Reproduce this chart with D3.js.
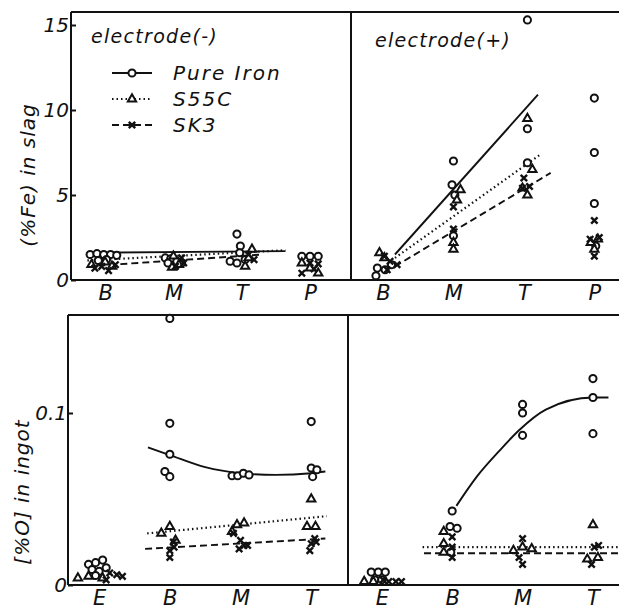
<!DOCTYPE html>
<html>
<head>
<meta charset="utf-8">
<script src="https://cdn.jsdelivr.net/npm/d3@7"></script>
<style>
  body { margin: 0; background: #fff; }
  text { font-family: "DejaVu Sans", sans-serif; font-style: italic; fill: #111; }
</style>
</head>
<body>
<div id="chart"></div>
<script>
// categories and tick labels
var SLAG_CATS = ['B', 'M', 'T', 'P'];
var INGOT_CATS = ['E', 'B', 'M', 'T'];
var SLAG_TICKS = [0, 5, 10, 15];
var INGOT_TICKS = [0, 0.1];
var SERIES = ['Pure Iron', 'S55C', 'SK3'];

// points: [category index (with the small spread of the plot), value]
var slagMinusIron = [[-0.22, 1.5], [-0.12, 1.55], [-0.02, 1.5], [0.08, 1.5], [0.17, 1.45], [-0.1, 1.15], [0.02, 1.2],
  [0.88, 1.3], [0.96, 1.25], [1.05, 1.1], [1.12, 1.0], [0.92, 1.0],
  [1.93, 2.7], [1.98, 2.0], [1.97, 1.6], [1.83, 1.1], [1.93, 1.0], [2.05, 1.2],
  [2.88, 1.4], [3.0, 1.4], [3.12, 1.4]];
var slagMinusS55C = [[-0.2, 0.9], [0.0, 1.05], [0.1, 0.8], [1.0, 1.4], [1.08, 0.9], [0.98, 0.75],
  [2.15, 1.8], [2.05, 0.8], [2.1, 1.3], [2.88, 1.0], [3.12, 0.4], [3.0, 0.7]];
var slagMinusSK3 = [[-0.15, 0.7], [0.05, 0.55], [0.15, 0.9], [-0.05, 0.8], [1.12, 1.3], [1.15, 1.0], [1.03, 0.8],
  [2.1, 1.5], [2.18, 1.2], [2.88, 0.4], [3.0, 1.0], [3.12, 0.95], [3.06, 0.65]];
var slagMinusIronFit = [[-0.26, 1.6], [2.64, 1.7]];
var slagMinusS55CFit = [[-0.26, 1.15], [2.64, 1.75]];
var slagMinusSK3Fit = [[-0.26, 0.8], [2.3, 1.5]];

var slagPlusIron = [[-0.1, 0.25], [-0.08, 0.7], [0.03, 0.6], [0.12, 0.9], [1.0, 7.0], [0.98, 5.6], [1.02, 5.0], [1.0, 2.6],
  [2.05, 15.3], [2.05, 8.9], [2.05, 6.9], [3.0, 10.7], [3.0, 7.5], [3.0, 4.5], [3.02, 2.0]];
var slagPlusS55C = [[-0.05, 1.6], [0.02, 1.3], [1.1, 5.3], [1.05, 4.7], [1.0, 2.2], [1.0, 1.8],
  [2.05, 9.5], [2.12, 6.5], [2.05, 5.0], [1.98, 5.4], [2.95, 2.2], [3.05, 2.4], [3.0, 1.8]];
var slagPlusSK3 = [[0.02, 1.4], [0.1, 1.1], [0.2, 0.9], [0.06, 0.6], [1.0, 4.3], [1.0, 3.0],
  [2.0, 6.0], [1.98, 5.4], [2.08, 5.5], [3.0, 3.5], [3.07, 2.5], [2.94, 2.4], [3.0, 1.4]];
var slagPlusIronFit = [[0.17, 1.5], [2.2, 10.9]];
var slagPlusS55CFit = [[0.17, 1.3], [2.24, 7.4]];
var slagPlusSK3Fit = [[0.17, 0.8], [2.38, 6.3]];

var ingotMinusIron = [[-0.15, 0.012], [-0.05, 0.013], [0.05, 0.0145], [-0.1, 0.009], [0.0, 0.008], [0.1, 0.010], [-0.05, 0.0055],
  [1.0, 0.155], [1.0, 0.094], [1.0, 0.076], [0.93, 0.066], [1.0, 0.063],
  [1.88, 0.0635], [1.96, 0.0635], [2.04, 0.065], [2.12, 0.064],
  [3.0, 0.095], [3.0, 0.068], [3.08, 0.067], [3.02, 0.063]];
var ingotMinusS55C = [[-0.3, 0.004], [-0.15, 0.005], [0.05, 0.004], [0.88, 0.030], [1.0, 0.034], [1.08, 0.026],
  [1.95, 0.035], [2.05, 0.036], [1.88, 0.031], [3.0, 0.050], [2.94, 0.034], [3.06, 0.034]];
var ingotMinusSK3 = [[0.15, 0.007], [0.25, 0.006], [0.1, 0.003], [0.33, 0.005], [1.05, 0.025], [1.0, 0.020], [1.06, 0.022], [1.0, 0.016],
  [1.9, 0.030], [2.0, 0.026], [2.05, 0.023], [1.98, 0.021], [2.1, 0.023], [3.05, 0.027], [3.0, 0.024], [2.98, 0.020], [3.07, 0.025]];
var ingotMinusIronFit = [[0.69, 0.080], [1.0, 0.0755], [1.5, 0.0685], [2.0, 0.065], [2.5, 0.064], [3.0, 0.065], [3.2, 0.066]];
var ingotMinusS55CFit = [[0.68, 0.030], [3.22, 0.040]];
var ingotMinusSK3Fit = [[0.65, 0.021], [3.2, 0.027]];

var ingotPlusIron = [[-0.15, 0.0075], [-0.05, 0.0075], [0.05, 0.0075], [-0.1, 0.003], [0.0, 0.003],
  [1.0, 0.043], [0.97, 0.034], [1.07, 0.033], [0.98, 0.019], [2.0, 0.105], [2.0, 0.100], [2.0, 0.087],
  [3.0, 0.120], [3.0, 0.109], [3.0, 0.088]];
var ingotPlusS55C = [[-0.25, 0.002], [-0.12, 0.002], [0.88, 0.031], [0.88, 0.024], [0.88, 0.019],
  [1.87, 0.020], [2.0, 0.022], [2.13, 0.021], [3.0, 0.035], [2.92, 0.015], [3.07, 0.016]];
var ingotPlusSK3 = [[0.1, 0.002], [0.2, 0.002], [0.28, 0.002], [0.02, 0.003], [1.0, 0.028], [1.0, 0.022], [1.0, 0.016],
  [2.0, 0.027], [1.95, 0.016], [2.0, 0.012], [3.02, 0.022], [3.08, 0.023], [2.98, 0.012]];
var ingotPlusIronFit = [[1.06, 0.046], [1.35, 0.063], [1.67, 0.078], [1.95, 0.090], [2.33, 0.102], [3.0, 0.109], [3.22, 0.109]];
var ingotPlusS55CFit = [[0.58, 0.022], [3.37, 0.022]];
var ingotPlusSK3Fit = [[0.6, 0.0185], [3.37, 0.0185]];

var WIDTH = 619, HEIGHT = 612;
var DASH = ['none', '1.5,3', '7,4'];

var svg = d3.select('#chart').append('svg')
  .attr('width', WIDTH)
  .attr('height', HEIGHT);

// scales for each panel
var yTop = d3.scaleLinear().domain([0, 15]).range([280, 25]);
var yBot = d3.scaleLinear().domain([0, 0.1]).range([585, 413]);
var xTL = d3.scaleLinear().domain([-0.5, 3.6]).range([71, 351]);
var xTR = d3.scaleLinear().domain([-0.454, 3.35]).range([351, 619]);
var xBL = d3.scaleLinear().domain([-0.44, 3.52]).range([68, 348]);
var xBR = d3.scaleLinear().domain([-0.48, 3.37]).range([348, 619]);

var panels = [
  { x: xTL, y: yTop, cats: SLAG_CATS, pts: [slagMinusIron, slagMinusS55C, slagMinusSK3], fits: [slagMinusIronFit, slagMinusS55CFit, slagMinusSK3Fit] },
  { x: xTR, y: yTop, cats: SLAG_CATS, pts: [slagPlusIron, slagPlusS55C, slagPlusSK3], fits: [slagPlusIronFit, slagPlusS55CFit, slagPlusSK3Fit] },
  { x: xBL, y: yBot, cats: INGOT_CATS, pts: [ingotMinusIron, ingotMinusS55C, ingotMinusSK3], fits: [ingotMinusIronFit, ingotMinusS55CFit, ingotMinusSK3Fit] },
  { x: xBR, y: yBot, cats: INGOT_CATS, pts: [ingotPlusIron, ingotPlusS55C, ingotPlusSK3], fits: [ingotPlusIronFit, ingotPlusS55CFit, ingotPlusSK3Fit] }
];

// frames
var frame = svg.append('g').attr('stroke', '#111').attr('stroke-width', 2).attr('fill', 'none');
[[71, 351, 12, 280], [68, 348, 315, 585]].forEach(function (f) {
  frame.append('path').attr('d',
    'M' + f[0] + ',' + f[2] + 'H' + WIDTH +
    'M' + f[0] + ',' + f[3] + 'H' + WIDTH +
    'M' + f[0] + ',' + f[2] + 'V' + f[3] +
    'M' + f[1] + ',' + f[2] + 'V' + f[3]);
});

// y axes (ticks inside the frame)
svg.append('g')
  .attr('transform', 'translate(71,0)')
  .call(d3.axisLeft(yTop).tickValues(SLAG_TICKS).tickSizeInner(-5).tickSizeOuter(0).tickPadding(2).tickFormat(d3.format('d')))
  .call(styleAxis, 20);
svg.append('g')
  .attr('transform', 'translate(68,0)')
  .call(d3.axisLeft(yBot).tickValues(INGOT_TICKS).tickSizeInner(-5).tickSizeOuter(0).tickPadding(1)
    .tickFormat(function (d) { return d === 0 ? '0' : String(d); }))
  .call(styleAxis, 20);

// category axes
panels.forEach(function (p, i) {
  var yPos = i < 2 ? 280 : 585;
  svg.append('g')
    .attr('transform', 'translate(0,' + yPos + ')')
    .call(d3.axisBottom(p.x).tickValues([0, 1, 2, 3]).tickSize(0).tickPadding(5)
      .tickFormat(function (d) { return p.cats[d]; }))
    .call(styleAxis, 21);
});

function styleAxis(g, size) {
  g.select('.domain').remove();
  g.selectAll('line').attr('stroke', '#111').attr('stroke-width', 2);
  g.selectAll('text')
    .attr('font-family', '"DejaVu Sans", sans-serif')
    .attr('font-style', 'italic')
    .attr('font-size', size)
    .attr('fill', '#111');
}

// fit lines and markers
panels.forEach(function (p) {
  var line = d3.line()
    .x(function (d) { return p.x(d[0]); })
    .y(function (d) { return p.y(d[1]); })
    .curve(d3.curveMonotoneX);

  p.fits.forEach(function (fit, s) {
    svg.append('path')
      .datum(fit)
      .attr('fill', 'none')
      .attr('stroke', '#111')
      .attr('stroke-width', s === 1 ? 2.2 : 1.9)
      .attr('stroke-dasharray', DASH[s])
      .attr('d', line);
  });

  p.pts.forEach(function (pts, s) {
    svg.append('g').selectAll('path')
      .data(pts)
      .enter().append('path')
      .attr('transform', function (d) { return 'translate(' + p.x(d[0]) + ',' + p.y(d[1]) + ')'; })
      .call(marker, s);
  });
});

function marker(sel, s) {
  sel.attr('stroke', '#111').attr('fill', '#fff');
  if (s === 0) {
    sel.attr('d', d3.symbol(d3.symbolCircle, 40)).attr('stroke-width', 2);
  } else if (s === 1) {
    sel.attr('d', d3.symbol(d3.symbolTriangle, 30)).attr('stroke-width', 2);
  } else {
    sel.attr('d', 'M-3.2,-3.2L3.2,3.2M-3.2,3.2L3.2,-3.2').attr('stroke-width', 2.4).attr('fill', 'none');
  }
}

// legend
var legend = svg.append('g');
SERIES.forEach(function (name, s) {
  var yy = 73 + s * 26;
  legend.append('line')
    .attr('x1', 112).attr('x2', 152).attr('y1', yy).attr('y2', yy)
    .attr('stroke', '#111').attr('stroke-width', 1.9)
    .attr('stroke-dasharray', DASH[s]);
  legend.append('path')
    .attr('transform', 'translate(132,' + yy + ')')
    .call(marker, s);
  legend.append('text')
    .attr('x', 173).attr('y', yy + 7)
    .attr('font-size', 20)
    .attr('letter-spacing', 2)
    .text(name);
});

// panel titles
svg.append('text').attr('x', 91).attr('y', 43).attr('font-size', 19).attr('letter-spacing', 1.3).text('electrode(-)');
svg.append('text').attr('x', 375).attr('y', 47).attr('font-size', 19).attr('letter-spacing', 1.3).text('electrode(+)');

// y axis titles
svg.append('text')
  .attr('transform', 'translate(35,175) rotate(-90)')
  .attr('text-anchor', 'middle')
  .attr('font-size', 20)
  .attr('letter-spacing', 1)
  .text('(%Fe) in slag');
svg.append('text')
  .attr('transform', 'translate(29,492) rotate(-90)')
  .attr('text-anchor', 'middle')
  .attr('font-size', 20)
  .attr('letter-spacing', 1)
  .text('[%O] in ingot');
</script>
</body>
</html>
